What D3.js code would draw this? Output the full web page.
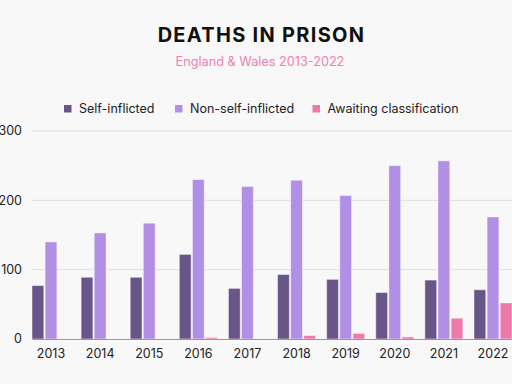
<!DOCTYPE html>
<html>
<head>
<meta charset="utf-8">
<script src="https://cdn.jsdelivr.net/npm/d3@7"></script>
<style>
  body { margin: 0; background: #f8f8f8; }
  text { font-family: Inter, "Open Sans", sans-serif; }
</style>
</head>
<body>
<div id="chart-container"></div>
<script>
// data
const years = ["2013","2014","2015","2016","2017","2018","2019","2020","2021","2022"];
const selfInflicted = [77, 89, 89, 122, 73, 93, 86, 67, 85, 71];
const nonSelfInflicted = [140, 153, 167, 230, 220, 229, 207, 250, 257, 176];
const awaiting = [0, 0, 0, 2, 0, 5, 8, 3, 30, 52];
const seriesNames = ["Self-inflicted", "Non-self-inflicted", "Awaiting classification"];
const yTicks = [0, 100, 200, 300];

const colors = ["#695689", "#b18fe4", "#ec7aaa"];
const W = 512, H = 384;
const margin = {top: 131, right: 0, bottom: 45, left: 32};
const width = W - margin.left - margin.right;
const height = H - margin.top - margin.bottom;

const rows = years.map((y, i) => ({year: y, values: [selfInflicted[i], nonSelfInflicted[i], awaiting[i]]}));

const svg = d3.select("#chart-container")
.append("svg")
.attr("width", W)
.attr("height", H);

svg.append("rect").attr("width", W).attr("height", H).attr("fill", "#f8f8f8");

// title + subtitle
svg.append("text")
.attr("x", 261.5).attr("y", 42)
.attr("text-anchor", "middle")
.attr("font-size", 20).attr("font-weight", 700)
.attr("letter-spacing", 1.3)
.attr("fill", "#111")
.text("DEATHS IN PRISON");

svg.append("text")
.attr("x", 260).attr("y", 66)
.attr("text-anchor", "middle")
.attr("font-size", 12.7)
.attr("fill", "#ee80b0")
.text("England & Wales 2013-2022");

// legend
const legendX = [64, 175, 312.5];
const legend = svg.append("g");
seriesNames.forEach((name, i) => {
  legend.append("rect")
  .attr("x", legendX[i]).attr("y", 105)
  .attr("width", 7.5).attr("height", 7.5)
  .attr("fill", colors[i]);
  legend.append("text")
  .attr("x", legendX[i] + 15).attr("y", 112.5)
  .attr("font-size", 12.5)
  .attr("fill", "#222")
  .text(name);
});

const g = svg.append("g")
.attr("transform", `translate(${margin.left},${margin.top})`);

// scales
const x = d3.scaleBand().domain(years).range([0, width]).paddingInner(0.226).paddingOuter(0);
const x1 = d3.scaleBand().domain([0, 1, 2]).range([0, x.bandwidth()]).paddingInner(0.1);
const y = d3.scaleLinear().domain([0, 300]).range([height, 0]);

// gridlines
g.append("g")
.selectAll("line")
.data(yTicks.filter(d => d > 0))
.join("line")
.attr("x1", 0).attr("x2", width)
.attr("y1", d => y(d)).attr("y2", d => y(d))
.attr("stroke", "#dedede").attr("stroke-width", 1);

// y labels
g.append("g")
.selectAll("text")
.data(yTicks)
.join("text")
.attr("x", -10).attr("y", d => y(d))
.attr("dy", "0.35em")
.attr("text-anchor", "end")
.attr("font-size", 12.5)
.attr("fill", "#222")
.text(d => d);

// bars
g.append("g")
.selectAll("g")
.data(rows)
.join("g")
.attr("transform", d => `translate(${x(d.year)},0)`)
.selectAll("rect")
.data(d => d.values.map((v, i) => ({i, v})).filter(e => e.v > 0))
.join("rect")
.attr("x", d => x1(d.i))
.attr("y", d => y(d.v))
.attr("width", x1.bandwidth())
.attr("height", d => y(0) - y(d.v))
.attr("fill", d => colors[d.i])
.attr("stroke", "rgba(255,255,255,0.45)")
.attr("stroke-width", 1);

// x axis
const xAxis = g.append("g")
.attr("transform", `translate(0,${height})`)
.call(d3.axisBottom(x).tickSize(0).tickPadding(10));
xAxis.select(".domain").attr("stroke", "#999");
xAxis.selectAll("text")
.attr("font-size", 12.5)
.attr("fill", "#222")
.style("font-family", "Inter, 'Open Sans', sans-serif");
</script>
</body>
</html>
